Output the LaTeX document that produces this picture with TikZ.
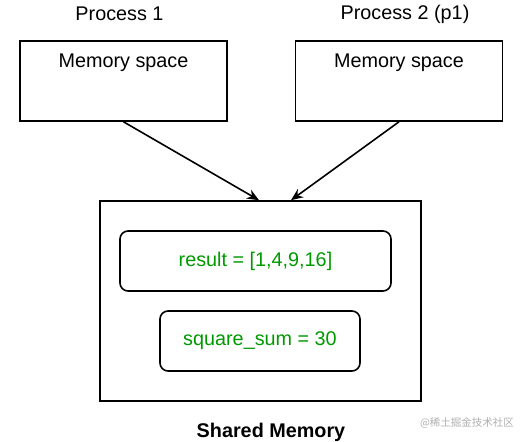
\documentclass[tikz,border=0pt]{standalone}
\usepackage{fontspec}
\setmainfont{Liberation Sans}
\newfontfamily\cjkfont{Noto Sans CJK SC}
\usepackage{xcolor}
\definecolor{codegreen}{RGB}{0,153,0}
\definecolor{markgray}{RGB}{175,175,175}
\usetikzlibrary{arrows.meta,positioning}

\begin{document}
\begin{tikzpicture}[
        x=1pt, y=-1pt,
        font=\fontsize{19.8pt}{23pt}\selectfont,
        % Estilos de las cajas
        membox/.style={rectangle, draw=black, line width=1.6pt, minimum width=207pt, minimum height=80pt, inner sep=0pt},
        sharedbox/.style={rectangle, draw=black, line width=1.6pt, minimum width=321pt, minimum height=200pt, inner sep=0pt},
        varbox/.style={rectangle, draw=black, line width=1.6pt, rounded corners=8pt, minimum height=60pt, inner sep=0pt, text=codegreen},
        title/.style={inner sep=0pt},
        arrow/.style={-{Stealth[length=12pt,width=10pt]}, line width=1.6pt, draw=black}
    ]

    \useasboundingbox (0,0) rectangle (531,442);

    % Procesos
    \node[membox] (mem1) at (123.5,81) {};
    \node[membox] (mem2) at (399,81) {};
    \node[title] (mem1txt) at ([yshift=-22.5pt]mem1.north) {Memory space};
    \node[title] (mem2txt) at ([yshift=-22.5pt]mem2.north) {Memory space};
    \node[title] (proc1) at (119.5,14) {Process 1};
    \node[title] (proc2) at (405,14) {Process 2 (p1)};

    % Memoria compartida
    \node[sharedbox] (shared) at (260.5,301) {};
    \node[varbox, minimum width=271pt] (result) at (255.5,261) {result = [1,4,9,16]};
    \node[varbox, minimum width=200pt] (sqsum) at (260,341) {square\_sum = 30};
    \node[title, font=\fontsize{19.8pt}{23pt}\selectfont\bfseries] (sharedtxt) at (271,432) {Shared Memory};

    % Marca de agua
    \node[title, font=\fontsize{10.5pt}{12pt}\selectfont\cjkfont, text=markgray] (wmark) at (467,423) {@稀土掘金技术社区};

    % ---------------- FLECHAS ---------------- %
    \draw[arrow] (mem1.south) -- ([xshift=-1.5pt]shared.north);
    \draw[arrow] (mem2.south) -- ([xshift=30.5pt]shared.north);

\end{tikzpicture}
\end{document}
